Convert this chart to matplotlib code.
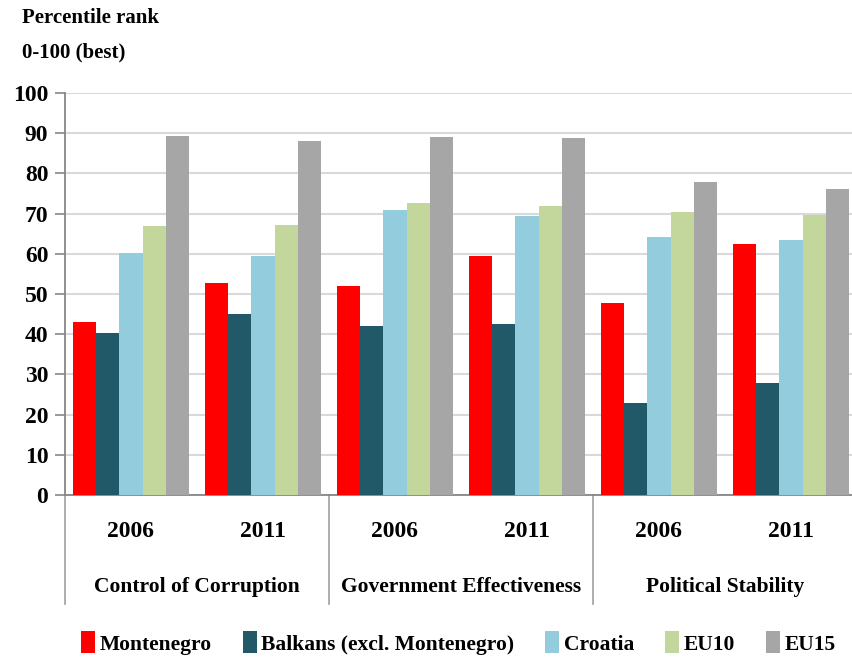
import matplotlib
matplotlib.use("Agg")
import matplotlib.pyplot as plt
from matplotlib.patches import Patch
import numpy as np

groups = ["Control of Corruption", "Government Effectiveness", "Political Stability"]
years = ["2006", "2011"]
series = ["Montenegro", "Balkans (excl. Montenegro)", "Croatia", "EU10", "EU15"]
montenegro = [43.0, 52.7, 51.9, 59.4, 47.7, 62.4]
balkans = [40.2, 45.1, 42.1, 42.5, 22.9, 27.8]
croatia = [60.1, 59.4, 70.8, 69.4, 64.1, 63.4]
eu10 = [67.0, 67.1, 72.7, 71.8, 70.3, 69.7]
eu15 = [89.4, 88.1, 89.1, 88.9, 77.8, 76.1]
colors = ["#ff0000", "#215968", "#93cddd", "#c3d69b", "#a6a6a6"]
yticks = list(range(0, 101, 10))

FONT = dict(family="Liberation Serif", weight="bold")

W, H = 852, 660
fig = plt.figure(figsize=(W / 100, H / 100), dpi=100)
left, right, top, bottom = 65, 857, 93, 495
ax = fig.add_axes([left / W, (H - bottom) / H, (right - left) / W, (bottom - top) / H])

x = np.arange(6)
bw = 0.176
data = [montenegro, balkans, croatia, eu10, eu15]
for i, (vals, c) in enumerate(zip(data, colors)):
    ax.bar(x + (i - 2) * bw, vals, width=bw, color=c, zorder=3, linewidth=0)

ax.set_xlim(-0.5, 5.5)
ax.set_ylim(0, 100)
ax.set_yticks(yticks)
ax.set_yticklabels([str(t) for t in yticks], fontsize=17, **FONT)
ax.yaxis.grid(True, color="#d9d9d9", linewidth=1.5, zorder=0)
ax.set_axisbelow(True)
ax.tick_params(axis="y", length=7, color="#868686", width=1.2, pad=5)
ax.set_xticks([])
for s in ["top", "right"]:
    ax.spines[s].set_visible(False)
for s in ["left", "bottom"]:
    ax.spines[s].set_color("#868686")
    ax.spines[s].set_linewidth(1.3)

tr = ax.get_xaxis_transform()
for xs in [-0.5, 1.5, 3.5]:
    ax.plot([xs, xs], [0, -0.27], transform=tr, color="#a0a0a0", lw=1.2, clip_on=False)
for i in range(6):
    ax.text(i, -0.092, years[i % 2], transform=tr, ha="center", va="center", fontsize=17, **FONT)
for g, name in enumerate(groups):
    ax.text(2 * g + 0.5, -0.228, name, transform=tr, ha="center", va="center", fontsize=15.5, **FONT)

fig.text(22 / W, 1 - 18 / H, "Percentile rank", ha="left", va="center", fontsize=15, **FONT)
fig.text(22 / W, 1 - 52 / H, "0-100 (best)", ha="left", va="center", fontsize=15, **FONT)

handles = [Patch(facecolor=c, edgecolor="none") for c in colors]
fig.legend(handles, series, loc="center", bbox_to_anchor=(0.538, (H - 643) / H), ncol=5,
           frameon=False, prop=dict(size=15.5, **FONT), handlelength=0.65, handleheight=1.2,
           handletextpad=0.2, columnspacing=1.45)

fig.savefig("out.png", dpi=100)
